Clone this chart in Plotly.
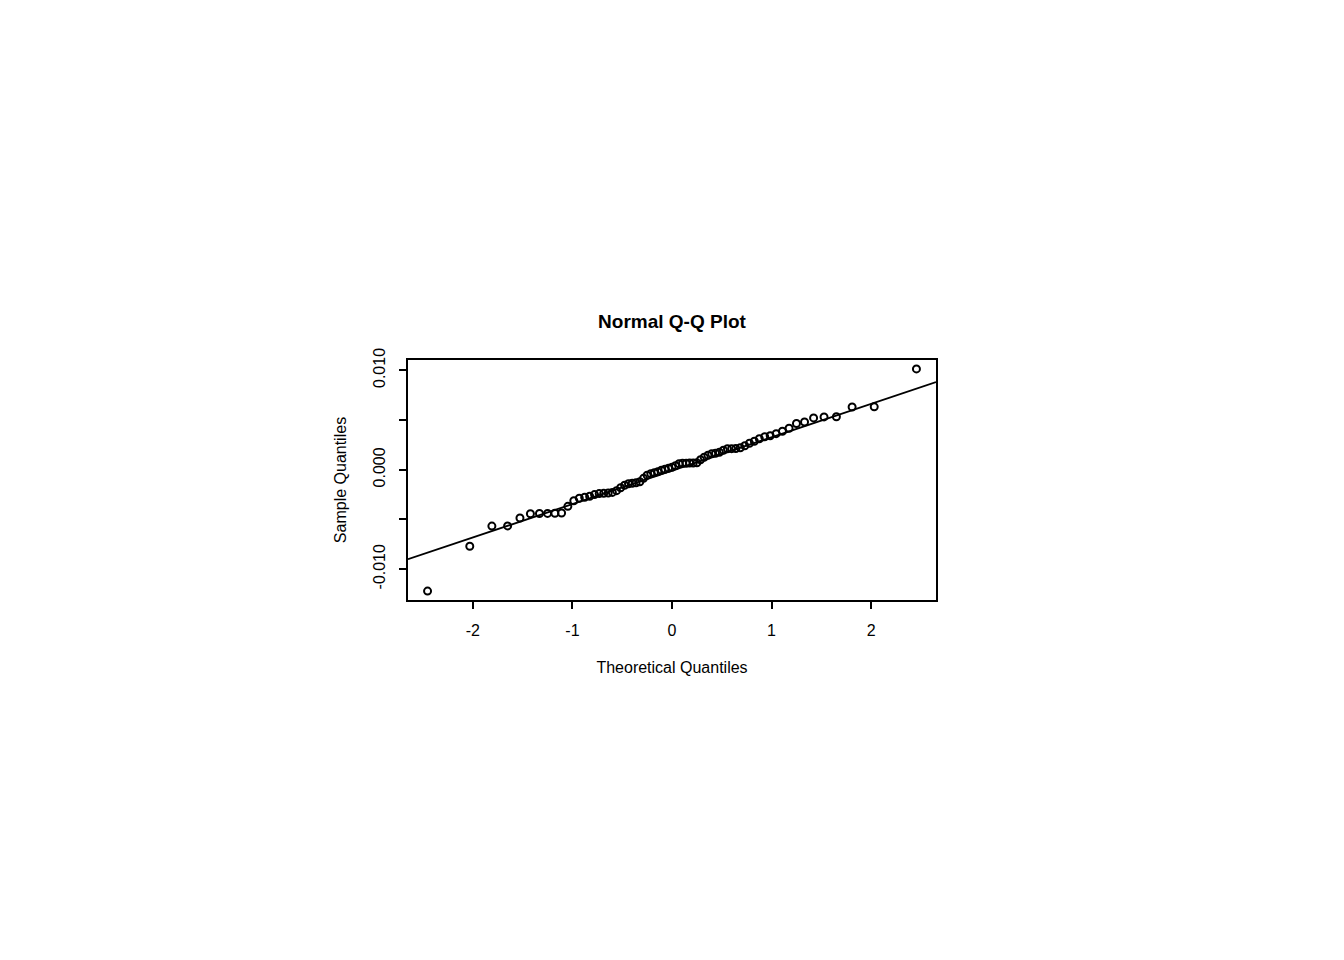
import numpy as np
import plotly.graph_objects as go
from statistics import NormalDist

# Theoretical normal quantiles (n = 71)
theoretical = [-2.455, -2.031, -1.809, -1.651, -1.527, -1.422, -1.331, -1.250, -1.176,
               -1.109, -1.046, -0.986, -0.931, -0.877, -0.827, -0.778, -0.731, -0.686,
               -0.641, -0.599, -0.557, -0.516, -0.476, -0.437, -0.399, -0.361, -0.323,
               -0.286, -0.250, -0.213, -0.177, -0.142, -0.106, -0.071, -0.035, 0.000,
               0.035, 0.071, 0.106, 0.142, 0.177, 0.213, 0.250, 0.286, 0.323,
               0.361, 0.399, 0.437, 0.476, 0.516, 0.557, 0.599, 0.641, 0.686,
               0.731, 0.778, 0.827, 0.877, 0.931, 0.986, 1.046, 1.109, 1.176,
               1.250, 1.331, 1.422, 1.527, 1.651, 1.809, 2.031, 2.455]

# Sorted sample quantiles
sample = [-0.01221, -0.00770, -0.00567, -0.00565, -0.00485, -0.00443, -0.00440, -0.00439,
          -0.00438, -0.00435, -0.00368, -0.00312, -0.00287, -0.00277, -0.00267, -0.00250,
          -0.00240, -0.00237, -0.00235, -0.00228, -0.00210, -0.00181, -0.00156, -0.00141,
          -0.00136, -0.00131, -0.00121, -0.00086, -0.00055, -0.00040, -0.00030, -0.00020,
          -0.00005, 0.00005, 0.00015, 0.00025, 0.00040, 0.00060, 0.00065, 0.00066,
          0.00067, 0.00068, 0.00070, 0.00101, 0.00126, 0.00146, 0.00161, 0.00166,
          0.00176, 0.00196, 0.00211, 0.00212, 0.00213, 0.00222, 0.00242, 0.00267,
          0.00287, 0.00312, 0.00332, 0.00342, 0.00363, 0.00388, 0.00418, 0.00465,
          0.00481, 0.00522, 0.00532, 0.00533, 0.00632, 0.00633, 0.01015]

x_tick_vals = [-2, -1, 0, 1, 2]
x_tick_text = ["-2", "-1", "0", "1", "2"]
y_tick_vals = [-0.010, -0.005, 0.000, 0.005, 0.010]
y_tick_text = ["-0.010", "", "0.000", "", "0.010"]

x = np.array(theoretical)
y = np.array(sample)

# R-style 4% axis padding
def pad(a):
    lo, hi = float(a.min()), float(a.max())
    d = (hi - lo) * 0.04
    return [lo - d, hi + d]

xr = pad(x)
yr = pad(y)

# qqline through the quartiles
nd = NormalDist()
q_s = np.quantile(y, [0.25, 0.75])
q_t = np.array([nd.inv_cdf(0.25), nd.inv_cdf(0.75)])
slope = (q_s[1] - q_s[0]) / (q_t[1] - q_t[0])
intercept = q_s[0] - slope * q_t[0]
line_x = np.array(xr)
line_y = intercept + slope * line_x

FONT = "Liberation Sans, Arial, Helvetica, sans-serif"

fig = go.Figure()
fig.add_trace(go.Scatter(x=line_x, y=line_y, mode="lines",
                         line=dict(color="black", width=1.8),
                         hoverinfo="skip", showlegend=False))
fig.add_trace(go.Scatter(x=x, y=y, mode="markers",
                         marker=dict(symbol="circle-open", size=7,
                                     color="black", line=dict(width=2)),
                         showlegend=False))

axis_common = dict(showgrid=False, zeroline=False, showline=True, mirror=True,
                   linecolor="black", linewidth=1.8, ticks="outside", ticklen=7,
                   tickwidth=1.8, tickcolor="black",
                   tickfont=dict(family=FONT, size=16, color="black"))

fig.update_xaxes(range=xr, tickvals=x_tick_vals, ticktext=x_tick_text,
                 ticklabelstandoff=8,
                 title=dict(text="Theoretical Quantiles",
                            font=dict(family=FONT, size=16, color="black"),
                            standoff=24),
                 **axis_common)
fig.update_yaxes(range=yr, tickvals=y_tick_vals, ticktext=y_tick_text,
                 tickangle=-90, ticklabelstandoff=8,
                 title=dict(text="Sample Quantiles",
                            font=dict(family=FONT, size=16, color="black"),
                            standoff=20),
                 **axis_common)

fig.update_layout(
    width=1344, height=960,
    margin=dict(l=400, r=416, t=352, b=368),
    paper_bgcolor="white", plot_bgcolor="white",
    title=dict(text="<b>Normal Q-Q Plot</b>", x=(672 - 8) / 1344, xanchor="center",
               y=1 - 313 / 960, yanchor="middle",
               font=dict(family=FONT, size=19, color="black")),
    font=dict(family=FONT, color="black"),
)

fig.write_html("out.html")
